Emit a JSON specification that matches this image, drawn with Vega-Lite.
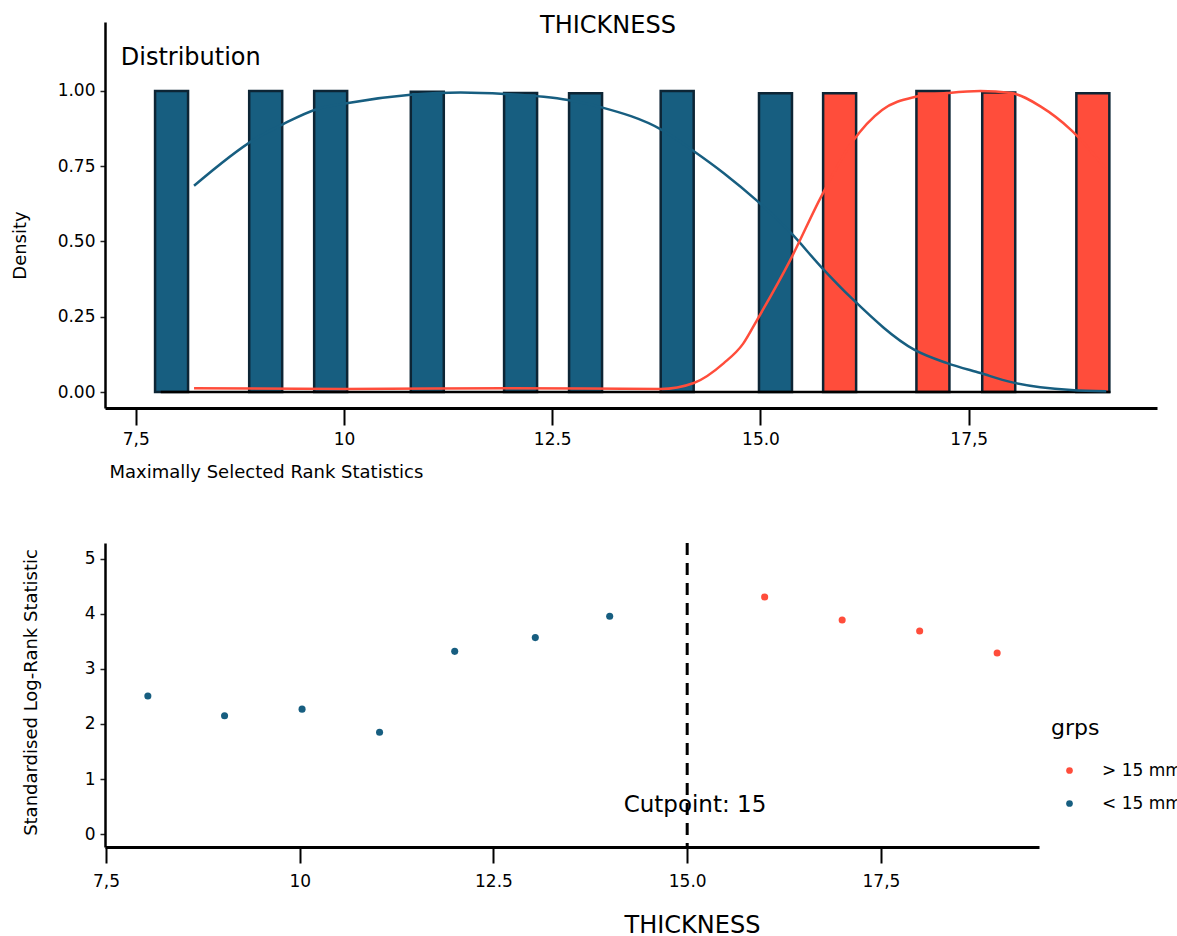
{
  "$schema": "https://vega.github.io/schema/vega-lite/v6.json",
  "padding": {"left": 11, "top": 14, "right": 0, "bottom": 8},
  "background": "white",
  "config": {
    "font": "DejaVu Sans",
    "view": {"stroke": null},
    "axis": {"grid": false, "domainColor": "black", "tickColor": "#222", "labelColor": "black", "titleColor": "black", "labelFont": "DejaVu Sans", "titleFont": "DejaVu Sans", "titleFontWeight": "normal", "labelFontSize": 17, "titleFontSize": 18}
  },
  "datasets": {
    "bars": [
      {"thickness": 7.93, "density": 1.0, "grp": "< 15 mm"},
      {"thickness": 9.06, "density": 1.0, "grp": "< 15 mm"},
      {"thickness": 9.84, "density": 1.0, "grp": "< 15 mm"},
      {"thickness": 11.0, "density": 0.997, "grp": "< 15 mm"},
      {"thickness": 12.12, "density": 0.993, "grp": "< 15 mm"},
      {"thickness": 12.9, "density": 0.992, "grp": "< 15 mm"},
      {"thickness": 14.0, "density": 1.0, "grp": "< 15 mm"},
      {"thickness": 15.18, "density": 0.992, "grp": "< 15 mm"},
      {"thickness": 15.95, "density": 0.992, "grp": "> 15 mm"},
      {"thickness": 17.07, "density": 1.0, "grp": "> 15 mm"},
      {"thickness": 17.86, "density": 0.995, "grp": "> 15 mm"},
      {"thickness": 18.99, "density": 0.992, "grp": "> 15 mm"}
    ],
    "curves": [
      {"thickness": 8.2, "density": 0.685, "grp": "< 15 mm"},
      {"thickness": 8.93, "density": 0.84, "grp": "< 15 mm"},
      {"thickness": 9.27, "density": 0.89, "grp": "< 15 mm"},
      {"thickness": 9.68, "density": 0.94, "grp": "< 15 mm"},
      {"thickness": 10.05, "density": 0.96, "grp": "< 15 mm"},
      {"thickness": 10.8, "density": 0.987, "grp": "< 15 mm"},
      {"thickness": 11.4, "density": 0.995, "grp": "< 15 mm"},
      {"thickness": 11.93, "density": 0.99, "grp": "< 15 mm"},
      {"thickness": 12.69, "density": 0.97, "grp": "< 15 mm"},
      {"thickness": 13.07, "density": 0.947, "grp": "< 15 mm"},
      {"thickness": 13.82, "density": 0.87, "grp": "< 15 mm"},
      {"thickness": 14.2, "density": 0.8, "grp": "< 15 mm"},
      {"thickness": 14.56, "density": 0.727, "grp": "< 15 mm"},
      {"thickness": 14.96, "density": 0.635, "grp": "< 15 mm"},
      {"thickness": 15.36, "density": 0.53, "grp": "< 15 mm"},
      {"thickness": 15.73, "density": 0.415, "grp": "< 15 mm"},
      {"thickness": 16.1, "density": 0.31, "grp": "< 15 mm"},
      {"thickness": 16.85, "density": 0.14, "grp": "< 15 mm"},
      {"thickness": 17.24, "density": 0.096, "grp": "< 15 mm"},
      {"thickness": 17.64, "density": 0.063, "grp": "< 15 mm"},
      {"thickness": 18.01, "density": 0.033, "grp": "< 15 mm"},
      {"thickness": 18.73, "density": 0.007, "grp": "< 15 mm"},
      {"thickness": 19.15, "density": 0.003, "grp": "< 15 mm"},
      {"thickness": 8.2, "density": 0.013, "grp": "> 15 mm"},
      {"thickness": 10.0, "density": 0.01, "grp": "> 15 mm"},
      {"thickness": 12.0, "density": 0.013, "grp": "> 15 mm"},
      {"thickness": 13.8, "density": 0.01, "grp": "> 15 mm"},
      {"thickness": 14.2, "density": 0.03, "grp": "> 15 mm"},
      {"thickness": 14.56, "density": 0.096, "grp": "> 15 mm"},
      {"thickness": 14.79, "density": 0.16, "grp": "> 15 mm"},
      {"thickness": 14.96, "density": 0.24, "grp": "> 15 mm"},
      {"thickness": 15.36, "density": 0.44, "grp": "> 15 mm"},
      {"thickness": 15.73, "density": 0.65, "grp": "> 15 mm"},
      {"thickness": 16.1, "density": 0.83, "grp": "> 15 mm"},
      {"thickness": 16.46, "density": 0.937, "grp": "> 15 mm"},
      {"thickness": 16.85, "density": 0.98, "grp": "> 15 mm"},
      {"thickness": 17.24, "density": 0.993, "grp": "> 15 mm"},
      {"thickness": 17.64, "density": 1.0, "grp": "> 15 mm"},
      {"thickness": 18.01, "density": 0.993, "grp": "> 15 mm"},
      {"thickness": 18.37, "density": 0.947, "grp": "> 15 mm"},
      {"thickness": 18.73, "density": 0.87, "grp": "> 15 mm"},
      {"thickness": 19.15, "density": 0.74, "grp": "> 15 mm"}
    ],
    "pts": [
      {"thickness": 8.04, "stat": 2.51, "grps": "< 15 mm"},
      {"thickness": 9.03, "stat": 2.15, "grps": "< 15 mm"},
      {"thickness": 10.03, "stat": 2.27, "grps": "< 15 mm"},
      {"thickness": 11.03, "stat": 1.85, "grps": "< 15 mm"},
      {"thickness": 12.0, "stat": 3.32, "grps": "< 15 mm"},
      {"thickness": 13.04, "stat": 3.57, "grps": "< 15 mm"},
      {"thickness": 14.0, "stat": 3.96, "grps": "< 15 mm"},
      {"thickness": 16.0, "stat": 4.31, "grps": "> 15 mm"},
      {"thickness": 17.0, "stat": 3.89, "grps": "> 15 mm"},
      {"thickness": 18.0, "stat": 3.69, "grps": "> 15 mm"},
      {"thickness": 19.0, "stat": 3.29, "grps": "> 15 mm"}
    ]
  },
  "spacing": 135,
  "bounds": "flush",
  "resolve": {"scale": {"color": "independent", "x": "independent", "y": "independent"}},
  "vconcat": [
    {
      "width": 1052,
      "height": 386,
      "title": {"text": "THICKNESS", "anchor": "middle", "dx": -23, "offset": -28, "baseline": "middle", "fontSize": 24, "fontWeight": "normal", "font": "DejaVu Sans", "color": "black"},
      "layer": [
        {
          "data": {"name": "bars"},
          "mark": {"type": "bar", "size": 33, "stroke": "#0d2535", "strokeWidth": 2.5},
          "encoding": {
            "x": {"field": "thickness", "type": "quantitative", "scale": {"domain": [7.191, 19.7], "nice": false, "zero": false},
              "axis": {"values": [7.5, 10, 12.5, 15, 17.5], "labelExpr": "datum.value == 7.5 ? '7,5' : datum.value == 10 ? '10' : datum.value == 12.5 ? '12.5' : datum.value == 15 ? '15.0' : '17,5'",
                "domainWidth": 3, "tickSize": 17, "tickWidth": 2, "tickColor": "black", "labelPadding": 6,
                "title": "Maximally Selected Rank Statistics", "titleAnchor": "start", "titleAlign": "left", "titleX": 4, "titleY": 64, "titleBaseline": "middle"}},
            "y": {"field": "density", "type": "quantitative", "scale": {"domain": [-0.053, 1.229], "nice": false, "zero": false},
              "axis": {"values": [0, 0.25, 0.5, 0.75, 1], "format": ".2f", "domainWidth": 2.5, "tickSize": 5, "tickWidth": 1.5, "labelPadding": 5,
                "title": "Density", "titleX": -85, "titleY": 223, "titleBaseline": "middle", "titleAngle": 270, "titleAlign": "center"}},
            "y2": {"datum": 0},
            "color": {"field": "grp", "type": "nominal", "scale": {"domain": ["> 15 mm", "< 15 mm"], "range": ["#ff4d3b", "#175e80"]}, "legend": null}
          }
        },
        {
          "data": {"values": [{}]},
          "mark": {"type": "rule", "color": "black", "strokeWidth": 2.5},
          "encoding": {"x": {"datum": 7.8}, "x2": {"datum": 19.2}, "y": {"datum": 0}}
        },
        {
          "data": {"name": "curves"},
          "mark": {"type": "line", "interpolate": "monotone", "strokeWidth": 2.5},
          "encoding": {
            "x": {"field": "thickness", "type": "quantitative"},
            "y": {"field": "density", "type": "quantitative"},
            "color": {"field": "grp", "type": "nominal", "legend": null}
          }
        },
        {
          "data": {"values": [{}]},
          "mark": {"type": "text", "text": "Distribution", "align": "left", "baseline": "middle", "fontSize": 24, "color": "black"},
          "encoding": {"x": {"datum": 7.32}, "y": {"datum": 1.109}}
        }
      ]
    },
    {
      "width": 934,
      "height": 304,
      "layer": [
        {
          "data": {"name": "pts"},
          "mark": {"type": "circle", "size": 50, "opacity": 1},
          "encoding": {
            "x": {"field": "thickness", "type": "quantitative", "scale": {"domain": [7.487, 19.54], "nice": false, "zero": false},
              "axis": {"values": [7.5, 10, 12.5, 15, 17.5], "labelExpr": "datum.value == 7.5 ? '7,5' : datum.value == 10 ? '10' : datum.value == 12.5 ? '12.5' : datum.value == 15 ? '15.0' : '17,5'",
                "domainWidth": 3, "tickSize": 16, "tickWidth": 2, "tickColor": "black", "labelPadding": 10,
                "title": "THICKNESS", "titleFontSize": 24, "titleX": 587, "titleY": 78, "titleBaseline": "middle", "titleAlign": "center"}},
            "y": {"field": "stat", "type": "quantitative", "scale": {"domain": [-0.236, 5.29], "nice": false, "zero": false},
              "axis": {"values": [0, 1, 2, 3, 4, 5], "format": "d", "domainWidth": 2.5, "tickSize": 5, "tickWidth": 1.5, "labelPadding": 5,
                "title": "Standardised Log-Rank Statistic", "titleX": -74, "titleY": 149, "titleBaseline": "middle", "titleAngle": 270, "titleAlign": "center"}},
            "color": {"field": "grps", "type": "nominal", "scale": {"domain": ["> 15 mm", "< 15 mm"], "range": ["#ff4d3b", "#175e80"]},
              "legend": {"title": "grps", "orient": "none", "legendX": 946, "legendY": 175, "titleFontSize": 22, "titleFontWeight": "normal", "titleColor": "black", "titlePadding": 22,
                "labelFontSize": 17, "labelColor": "black", "labelOffset": 24, "symbolOffset": 10, "symbolSize": 45, "symbolType": "circle", "rowPadding": 15, "labelFont": "DejaVu Sans", "titleFont": "DejaVu Sans"}}
          }
        },
        {
          "data": {"values": [{}]},
          "mark": {"type": "rule", "color": "black", "strokeWidth": 3, "strokeDash": [12, 8]},
          "encoding": {"x": {"datum": 15}}
        },
        {
          "data": {"values": [{}]},
          "mark": {"type": "text", "text": "Cutpoint: 15", "align": "center", "baseline": "middle", "fontSize": 23, "color": "black"},
          "encoding": {"x": {"datum": 15.1}, "y": {"datum": 0.53}}
        }
      ]
    }
  ]
}
